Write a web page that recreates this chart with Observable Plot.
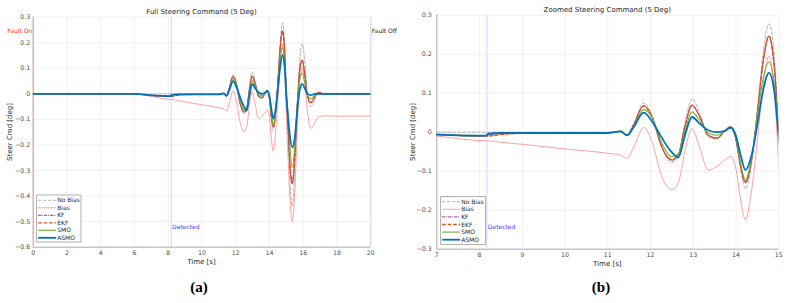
<!DOCTYPE html>
<html><head><meta charset="utf-8">
<script src="https://cdn.jsdelivr.net/npm/d3@7"></script>
<script src="https://cdn.jsdelivr.net/npm/@observablehq/plot@0.6"></script>
<style>
body{margin:0;background:#fff;width:788px;height:303px;overflow:hidden;position:relative;font-family:"DejaVu Sans",sans-serif;}
.panel{position:absolute;top:0;width:394px;height:270px;}
.lbl{position:absolute;font-size:7px;color:#262626;white-space:nowrap;transform:translate(-50%,-50%);line-height:1;}
.ylbl{position:absolute;font-size:7px;color:#262626;white-space:nowrap;transform:translate(-50%,-50%) rotate(-90deg);line-height:1;}
.cap{position:absolute;font-family:"Liberation Serif",serif;font-weight:bold;font-size:15px;color:#000;transform:translate(-50%,-50%);line-height:1;}
</style></head><body>
<div id="a" class="panel" style="left:0"></div>
<div id="b" class="panel" style="left:394px"></div>
<div class="lbl" style="left:201.5px;top:12.3px">Full Steering Command (5 Deg)</div>
<div class="lbl" style="left:607.3px;top:10px">Zoomed Steering Command (5 Deg)</div>
<div class="ylbl" style="left:10px;top:131.7px">Steer Cmd [deg]</div>
<div class="ylbl" style="left:412.5px;top:131.7px">Steer Cmd [deg]</div>
<div class="lbl" style="left:201.5px;top:262.3px">Time [s]</div>
<div class="lbl" style="left:607.3px;top:264.3px">Time [s]</div>
<div class="cap" style="left:199px;top:287px">(a)</div>
<div class="cap" style="left:601px;top:287px">(b)</div>
<script>
// ---- data ----
const time = [0, 5, 6, 7, 8.15, 8.2, 8.5, 9, 10, 11, 11.3, 11.45, 11.6, 11.84, 12.05, 12.25, 12.5, 12.65, 12.8, 12.97, 13.15, 13.35, 13.55, 13.75, 13.87, 14.0, 14.1, 14.22, 14.35, 14.5, 14.62, 14.77, 14.9, 15.0, 15.1, 15.2, 15.35, 15.5, 15.65, 15.8, 15.94, 16.1, 16.25, 16.45, 16.7, 16.9, 17.2, 18, 20];
const noBias = [0, 0, 0, 0, 0, 0, 0, 0, 0, 0, 0.003, -0.006, 0.02, 0.075, 0.04, -0.035, -0.078, -0.06, 0.02, 0.086, 0.05, -0.012, -0.018, 0.005, 0.015, -0.02, -0.09, -0.145, -0.09, 0.06, 0.19, 0.278, 0.19, 0.0, -0.15, -0.32, -0.44, -0.3, -0.05, 0.14, 0.196, 0.12, 0.0, -0.05, -0.02, 0.005, 0, 0, 0];
const bias = [0, 0, 0, -0.01, -0.022, -0.022, -0.026, -0.031, -0.043, -0.054, -0.059, -0.067, -0.04, 0.012, -0.03, -0.11, -0.147, -0.13, -0.05, 0.009, -0.04, -0.097, -0.088, -0.07, -0.062, -0.095, -0.17, -0.224, -0.16, -0.02, 0.11, 0.195, 0.1, -0.089, -0.25, -0.4, -0.5, -0.38, -0.13, 0.06, 0.1, 0.03, -0.07, -0.135, -0.11, -0.09, -0.086, -0.087, -0.087];
const kf = [0, 0, 0, -0.006, -0.01, -0.008, -0.003, -0.002, -0.002, -0.002, 0.002, -0.007, 0.018, 0.068, 0.035, -0.035, -0.072, -0.058, 0.012, 0.07, 0.04, -0.008, -0.015, 0.005, 0.014, -0.02, -0.085, -0.13, -0.08, 0.05, 0.17, 0.247, 0.16, -0.01, -0.13, -0.27, -0.352, -0.24, -0.04, 0.1, 0.133, 0.07, -0.01, -0.035, -0.01, 0.006, 0, 0, 0];
const ekf = [0, 0, 0, -0.006, -0.01, -0.01, -0.006, -0.003, -0.002, -0.002, 0.002, -0.007, 0.018, 0.067, 0.035, -0.034, -0.07, -0.057, 0.012, 0.068, 0.04, -0.008, -0.015, 0.005, 0.014, -0.02, -0.084, -0.127, -0.08, 0.05, 0.168, 0.245, 0.16, -0.008, -0.13, -0.265, -0.345, -0.235, -0.04, 0.098, 0.13, 0.07, -0.01, -0.033, -0.01, 0.006, 0, 0, 0];
const smo = [0, 0, 0, -0.005, -0.009, -0.005, -0.002, -0.002, -0.002, -0.002, 0.002, -0.007, 0.015, 0.058, 0.035, -0.025, -0.063, -0.055, 0.0, 0.052, 0.03, -0.002, -0.008, 0.003, 0.01, -0.016, -0.075, -0.123, -0.075, 0.04, 0.13, 0.18, 0.12, 0.014, -0.09, -0.2, -0.287, -0.2, -0.03, 0.06, 0.081, 0.04, -0.005, -0.02, -0.005, 0, 0, 0, 0];
const asmo = [0, 0, 0, -0.006, -0.009, -0.004, -0.002, -0.002, -0.002, -0.002, 0.002, -0.008, 0.012, 0.05, 0.025, -0.012, -0.052, -0.065, -0.01, 0.039, 0.022, 0.005, 0.0, 0.004, 0.012, -0.01, -0.055, -0.097, -0.065, 0.02, 0.1, 0.152, 0.1, -0.012, -0.09, -0.16, -0.21, -0.17, -0.06, 0.02, 0.039, 0.02, 0.0, -0.005, 0, 0, 0, 0, 0];
const seriesNames = ["No Bias", "Bias", "KF", "EKF", "SMO", "ASMO"];
const seriesValues = [noBias, bias, kf, ekf, smo, asmo];
const faultOn = 0, faultOff = 20, detectedAt = 8.17;
const xTicksA = [0, 2, 4, 6, 8, 10, 12, 14, 16, 18, 20];
const yTicksA = [-0.6, -0.5, -0.4, -0.3, -0.2, -0.1, 0, 0.1, 0.2, 0.3];
const xTicksB = [7, 8, 9, 10, 11, 12, 13, 14, 15];
const yTicksB = [-0.3, -0.2, -0.1, 0, 0.1, 0.2, 0.3];

// ---- styles ----
const styles = {
  "No Bias": {stroke: "#b0b0b0", strokeWidth: 1, strokeDasharray: "3,2"},
  "Bias":    {stroke: "#ff8a8a", strokeWidth: 0.8, strokeDasharray: null},
  "KF":      {stroke: "#7E2F8E", strokeWidth: 1, strokeDasharray: "3,1,1,1"},
  "EKF":     {stroke: "#D95319", strokeWidth: 1.3, strokeDasharray: "3.5,2"},
  "SMO":     {stroke: "#77AC30", strokeWidth: 1.1, strokeDasharray: null},
  "ASMO":    {stroke: "#0072BD", strokeWidth: 1.8, strokeDasharray: null}
};
const rows = seriesNames.flatMap((s, i) => time.map((t, j) => ({series: s, t, v: seriesValues[i][j]})));

const fmtY = d => Math.abs(d) < 1e-9 ? "0" : d3.format(".1f")(d);

function panel(el, cfg) {
  const lineMarks = seriesNames.map(s => Plot.lineY(rows.filter(r => r.series === s), {
    x: "t", y: "v", curve: "monotone-x", clip: true,
    stroke: styles[s].stroke, strokeWidth: styles[s].strokeWidth,
    strokeDasharray: styles[s].strokeDasharray || undefined
  }));
  const svg = Plot.plot({
    width: 394, height: 270,
    marginLeft: cfg.ml, marginRight: cfg.mr, marginTop: cfg.mt, marginBottom: cfg.mb,
    style: {fontFamily: "DejaVu Sans", fontSize: "6.3px", color: "#4d4d4d", background: "transparent", overflow: "visible"},
    x: {domain: cfg.xd, label: null},
    y: {domain: cfg.yd, label: null},
    marks: [
      Plot.gridX(cfg.xt, {stroke: "#e8e8e8", strokeOpacity: 1, strokeWidth: 0.6}),
      Plot.gridY(cfg.yt, {stroke: "#e8e8e8", strokeOpacity: 1, strokeWidth: 0.6}),
      Plot.axisX(cfg.xt, {tickSize: 0, tickPadding: 3, label: null, fill: "#4d4d4d"}),
      Plot.axisY(cfg.yt, {tickSize: 0, tickPadding: cfg.yPad, label: null, tickFormat: fmtY, fill: "#4d4d4d"}),
      Plot.ruleY([cfg.yd[0]], {stroke: "#9a9a9a", strokeWidth: 0.8}),
      Plot.ruleX([cfg.xd[0]], {stroke: "#9a9a9a", strokeWidth: 0.8}),
      Plot.ruleX([detectedAt], {stroke: "#d0d0ff", strokeWidth: 1}),
      ...(cfg.faults ? [
        Plot.ruleX([faultOn], {stroke: "#ffa8a8", strokeWidth: 0.8}),
        Plot.ruleX([faultOff], {stroke: "#888", strokeWidth: 0.6, strokeDasharray: "1,1"}),
        Plot.text(["Fault On"], {x: faultOn, y: 0.244, text: d => d, textAnchor: "end", dx: -1, fill: "#ff2a2a", fontSize: 6}),
        Plot.text(["Fault Off"], {x: faultOff, y: 0.244, text: d => d, textAnchor: "start", dx: 1, fill: "#222", fontSize: 6})
      ] : []),
      Plot.text(["Detected"], {x: detectedAt, y: cfg.detY, text: d => d, textAnchor: "start", dx: 1, fill: "#4040ff", fontSize: 6}),
      ...lineMarks
    ]
  });
  // legend
  const g = d3.select(svg).append("g").attr("font-family", "DejaVu Sans").attr("font-size", 6).attr("text-anchor", "start");
  const L = cfg.legend;
  g.append("rect").attr("x", L.x).attr("y", L.y).attr("width", L.w).attr("height", L.h)
    .attr("fill", "#fff").attr("stroke", "#8c8c8c").attr("stroke-width", 0.7);
  seriesNames.forEach((s, i) => {
    const yy = L.y + L.first + i * L.step;
    const st = styles[s];
    const ln = g.append("line").attr("x1", L.x + 1.5).attr("x2", L.x + 19.5).attr("y1", yy).attr("y2", yy)
      .attr("stroke", st.stroke).attr("stroke-width", st.strokeWidth);
    if (st.strokeDasharray) ln.attr("stroke-dasharray", st.strokeDasharray);
    g.append("text").attr("x", L.x + 20.5).attr("y", yy).attr("dy", "0.35em").attr("text-anchor", "start")
      .attr("fill", "#262626").text(s);
  });
  document.getElementById(el).appendChild(svg);
}

panel("a", {ml: 32.7, mr: 23.7, mt: 16.7, mb: 23.3, xd: [0, 20], yd: [-0.6, 0.3], xt: xTicksA, yt: yTicksA,
  yPad: 3, faults: true, detY: -0.52, legend: {x: 36.7, y: 195, w: 44.3, h: 47, first: 5.3, step: 7.5}});
panel("b", {ml: 42.3, mr: 9.7, mt: 14.7, mb: 21.3, xd: [7, 15], yd: [-0.3, 0.3], xt: xTicksB, yt: yTicksB,
  yPad: 5, faults: false, detY: -0.2436, legend: {x: 46.7, y: 196.7, w: 45, h: 47.6, first: 5, step: 7.6}});
</script>
</body></html>
